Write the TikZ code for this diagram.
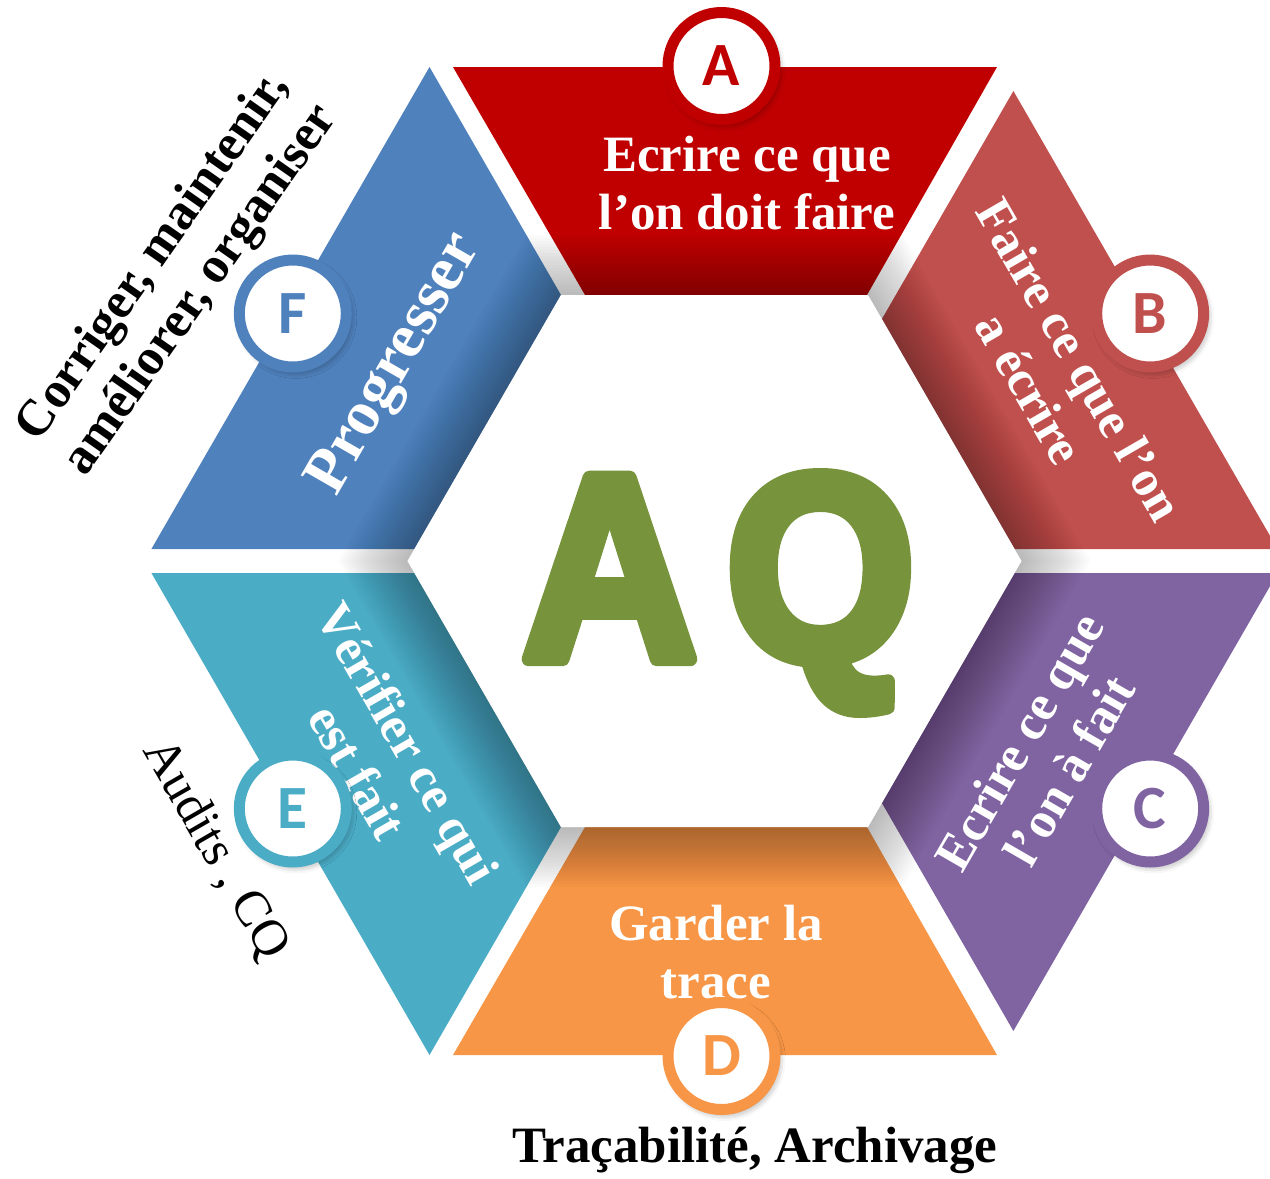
\documentclass[tikz,border=0pt]{standalone}
\usepackage{fontspec}
\setmainfont{Liberation Serif}
\newfontfamily\letterfont{Carlito}
\newfontfamily\aqfont{Liberation Sans}
\usepackage{xcolor}
\definecolor{segA}{HTML}{C00000}
\definecolor{segB}{HTML}{C0504D}
\definecolor{segC}{HTML}{8064A2}
\definecolor{segD}{HTML}{F79646}
\definecolor{segE}{HTML}{4BACC6}
\definecolor{segF}{HTML}{4F81BD}
\definecolor{aqgreen}{HTML}{77933C}
\usetikzlibrary{calc}
\usetikzlibrary{shadows.blur}

%thick rounded letters
\newcommand{\roundtext}[1]{\special{pdf:literal direct 2 Tr 8 w 1 j 1 J}#1\special{pdf:literal direct 0 Tr}}

\tikzset{
	segtext/.style={text=white, font=\bfseries\fontsize{29}{33}\selectfont, align=center},
	outtext/.style={text=black, font=\bfseries\fontsize{29}{33}\selectfont, align=center},
	badge/.style={circle, fill=white, draw=#1, text=#1, line width=0.22cm, minimum size=2.14cm, inner sep=0pt,
		font=\letterfont\bfseries\fontsize{35}{35}\selectfont,
		blur shadow={shadow xshift=0.06cm, shadow yshift=-0.08cm, shadow blur radius=0.15cm, shadow opacity=45}},
}

\begin{document}
\begin{tikzpicture}[x=0.02cm, y=0.02cm]
		\useasboundingbox (-714.5,-617) rectangle (555.5,561);

		%draw the six segments of the ring
		\fill[segA] (-261.5,494) -- (282.5,494) -- (152.5,266) -- (-129.5,266) -- cycle;
		\fill[segB] (298.9,470) -- (563.1,12) -- (300.1,12) -- (167.4,242) -- cycle;
		\fill[segC] (298.9,-470) -- (563.1,-12) -- (300.1,-12) -- (167.4,-242) -- cycle;
		\fill[segD] (-261.5,-494) -- (282.5,-494) -- (152.5,-266) -- (-129.5,-266) -- cycle;
		\fill[segE] (-285,-494) -- (-563.1,-12) -- (-300.1,-12) -- (-153.5,-266) -- cycle;
		\fill[segF] (-285,494) -- (-563.1,12) -- (-300.1,12) -- (-153.5,266) -- cycle;

		%shadow round the inner hexagon
		\foreach \k in {1,...,20}
		\draw[black, draw opacity=0.017, line width={\k*0.12cm}]
			(307,0) -- (153.5,266) -- (-153.5,266) -- (-307,0) -- (-153.5,-266) -- (153.5,-266) -- cycle;

		%inner hexagon
		\fill[white] (307,0) -- (153.5,266) -- (-153.5,266) -- (-307,0) -- (-153.5,-266) -- (153.5,-266) -- cycle;
		\node[text=aqgreen, font=\aqfont\bfseries\fontsize{150}{150}\selectfont] (aq) at (4,-32) {\scalebox{0.92}[1]{\roundtext{A\kern18pt Q}}};

		%texts in the segments
		\node[segtext] (txtA) at (32.5,378) {Ecrire ce que\\l’on doit faire};
		\node[segtext, rotate=-60] (txtB) at (340.5,187) {Faire ce que l’on\\a écrire};
		\node[segtext, rotate=60] (txtC) at (329.5,-195) {Ecrire ce que\\l’on à fait};
		\node[segtext] (txtD) at (1.5,-391) {Garder la\\trace};
		\node[segtext, rotate=-60] (txtE) at (-331.5,-196) {Vérifier ce qui\\est fait};
		\node[segtext, rotate=60, font=\bfseries\fontsize{36}{40}\selectfont] (txtF) at (-318,196) {Progresser};

		%letters
		\foreach \ang/\lab/\col in {90/A/segA, 30/B/segB, -30/C/segC, -90/D/segD, -150/E/segE, 150/F/segF}
		\node[badge=\col] (badge\lab) at ($(7,0)+(\ang:495)$) {\lab};

		%labels outside
		\node[outtext] (trac) at (40.5,-589) {Traçabilité, Archivage};
		\node[outtext, rotate=55] (corr) at (-536.5,287) {Corriger, maintenir,\\améliorer, organiser};
		\node[outtext, rotate=-60, font=\fontsize{29}{33}\selectfont] (audit) at (-499.5,-289) {Audits , CQ};
	\end{tikzpicture}
\end{document}
